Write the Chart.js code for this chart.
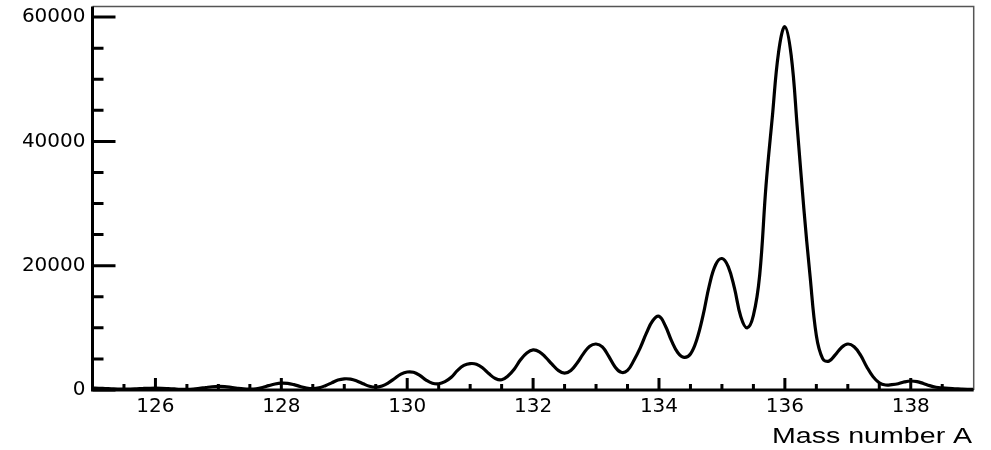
<!DOCTYPE html>
<html>
<head>
<meta charset="utf-8">
<title>Mass number A</title>
<script src="https://cdn.jsdelivr.net/npm/chart.js@4.4.1/dist/chart.umd.min.js"></script>
<style>
    html, body { margin: 0; padding: 0; background: #fff; }
    #wrap { width: 991px; height: 450px; }
</style>
</head>
<body>
<div id="wrap"><canvas id="massChart" width="991" height="450"></canvas></div>
<script>
// Mass spectrum, every 0.1 in A
const massA = [
    125.0, 125.1, 125.2, 125.3, 125.4, 125.5, 125.6, 125.7, 125.8, 125.9,
    126.0, 126.1, 126.2, 126.3, 126.4, 126.5, 126.6, 126.7, 126.8, 126.9,
    127.0, 127.1, 127.2, 127.3, 127.4, 127.5, 127.6, 127.7, 127.8, 127.9,
    128.0, 128.1, 128.2, 128.3, 128.4, 128.5, 128.6, 128.7, 128.8, 128.9,
    129.0, 129.1, 129.2, 129.3, 129.4, 129.5, 129.6, 129.7, 129.8, 129.9,
    130.0, 130.1, 130.2, 130.3, 130.4, 130.5, 130.6, 130.7, 130.8, 130.9,
    131.0, 131.1, 131.2, 131.3, 131.4, 131.5, 131.6, 131.7, 131.8, 131.9,
    132.0, 132.1, 132.2, 132.3, 132.4, 132.5, 132.6, 132.7, 132.8, 132.9,
    133.0, 133.1, 133.2, 133.3, 133.4, 133.5, 133.6, 133.7, 133.8, 133.9,
    134.0, 134.1, 134.2, 134.3, 134.4, 134.5, 134.6, 134.7, 134.8, 134.9,
    135.0, 135.1, 135.2, 135.3, 135.4, 135.5, 135.6, 135.7, 135.8, 135.9,
    136.0, 136.1, 136.2, 136.3, 136.4, 136.5, 136.6, 136.7, 136.8, 136.9,
    137.0, 137.1, 137.2, 137.3, 137.4, 137.5, 137.6, 137.7, 137.8, 137.9,
    138.0, 138.1, 138.2, 138.3, 138.4, 138.5, 138.6, 138.7, 138.8, 138.9,
    139.0
];
const counts = [
    300, 280, 240, 200, 160, 140, 150, 190, 240, 280,
    300, 280, 230, 170, 120, 110, 160, 270, 400, 520,
    580, 550, 430, 280, 170, 140, 200, 400, 700, 960,
    1100, 1060, 860, 570, 320, 220, 350, 700, 1150, 1600,
    1800, 1750, 1450, 1000, 600, 450, 650, 1150, 1850, 2550,
    2900, 2850, 2350, 1600, 1100, 1000, 1350, 2050, 3150, 3950,
    4250, 4150, 3550, 2600, 1850, 1650, 2250, 3350, 4850, 5950,
    6450, 6150, 5250, 4150, 3150, 2700, 3150, 4350, 5850, 7050,
    7400, 6950, 5450, 3750, 2850, 3150, 4750, 6750, 9150, 11150,
    11850, 10350, 7900, 6000, 5250, 5800, 8100, 12000, 16850, 20150,
    21150, 19850, 16350, 11800, 10000, 12000, 18500, 32850, 43850, 54350,
    58450, 53850, 41850, 29350, 18350, 8750, 5050, 4650, 5650, 6850,
    7400, 6950, 5650, 3750, 2150, 1150, 800, 850, 1000, 1300,
    1450, 1350, 1050, 700, 450, 330, 250, 200, 150, 110,
    90
];

// Axis ranges and tick marks
const xRange = [125, 139];
const yRange = [0, 61700];
const xTickLabels = [126, 128, 130, 132, 134, 136, 138];
const yTickLabels = [0, 20000, 40000, 60000];
const xMinorTicks = [125.5, 126.5, 127, 127.5, 128.5, 129, 129.5, 130.5, 131, 131.5,
    132.5, 133, 133.5, 134.5, 135, 135.5, 136.5, 137, 137.5, 138.5];
const yMinorTicks = [5000, 10000, 15000, 25000, 30000, 35000, 45000, 50000, 55000];
const xTitle = 'Mass number A';

// ROOT-style frame: thick left/bottom axes with ticks pointing inwards,
// thin grey top/right border, stretched axis title
const rootFrame = {
    id: 'rootFrame',
    afterDatasetsDraw(chart) {
        const { ctx, chartArea: a, scales } = chart;
        const xs = scales.x, ys = scales.y;
        ctx.save();

        ctx.strokeStyle = '#555';
        ctx.lineWidth = 1.5;
        ctx.beginPath();
        ctx.moveTo(a.left, a.top);
        ctx.lineTo(a.right, a.top);
        ctx.lineTo(a.right, a.bottom);
        ctx.stroke();

        ctx.strokeStyle = '#000';
        ctx.lineWidth = 3;
        ctx.lineCap = 'butt';
        ctx.beginPath();
        ctx.moveTo(a.left, a.top);
        ctx.lineTo(a.left, a.bottom);
        ctx.lineTo(a.right, a.bottom);
        ctx.stroke();

        ctx.beginPath();
        xTickLabels.forEach(v => {
            const px = xs.getPixelForValue(v);
            ctx.moveTo(px, a.bottom);
            ctx.lineTo(px, a.bottom - 12);
        });
        xMinorTicks.forEach(v => {
            const px = xs.getPixelForValue(v);
            ctx.moveTo(px, a.bottom);
            ctx.lineTo(px, a.bottom - 6);
        });
        yTickLabels.forEach(v => {
            const py = ys.getPixelForValue(v);
            ctx.moveTo(a.left, py);
            ctx.lineTo(a.left + 23, py);
        });
        yMinorTicks.forEach(v => {
            const py = ys.getPixelForValue(v);
            ctx.moveTo(a.left, py);
            ctx.lineTo(a.left + 11, py);
        });
        ctx.stroke();

        // axis title, right aligned under the frame
        ctx.fillStyle = '#000';
        ctx.font = '22px "Liberation Sans", Arial, sans-serif';
        ctx.textAlign = 'right';
        ctx.textBaseline = 'alphabetic';
        ctx.translate(a.right - 1.5, 442.5);
        ctx.scale(1.3, 1);
        ctx.fillText(xTitle, 0, 0);
        ctx.restore();
    }
};

function renderMassChart() {
    const canvas = document.getElementById('massChart');
    const tickFont = { family: '"DejaVu Sans", sans-serif', size: 20 };

    new Chart(canvas.getContext('2d'), {
        type: 'line',
        data: {
            datasets: [{
                data: massA.map((m, i) => ({ x: m, y: counts[i] })),
                borderColor: '#000',
                borderWidth: 3.2,
                pointRadius: 0,
                fill: false,
                tension: 0.4
            }]
        },
        options: {
            responsive: false,
            animation: false,
            devicePixelRatio: 1,
            layout: { padding: { top: 6.5, right: 17.3, left: 0, bottom: 0 } },
            plugins: {
                legend: { display: false },
                tooltip: { enabled: false }
            },
            scales: {
                x: {
                    type: 'linear',
                    min: xRange[0],
                    max: xRange[1],
                    grid: { display: false, drawTicks: false },
                    border: { display: false },
                    afterBuildTicks: (scale) => { scale.ticks = xTickLabels.map(v => ({ value: v })); },
                    afterFit: (scale) => {
                        scale.height = 60;
                        scale.paddingLeft = 0;
                        scale.paddingRight = 0;
                    },
                    ticks: {
                        color: '#000',
                        font: tickFont,
                        padding: 5,
                        maxRotation: 0,
                        autoSkip: false,
                        callback: (v) => String(v)
                    }
                },
                y: {
                    min: yRange[0],
                    max: yRange[1],
                    grid: { display: false, drawTicks: false },
                    border: { display: false },
                    afterBuildTicks: (scale) => { scale.ticks = yTickLabels.map(v => ({ value: v })); },
                    afterFit: (scale) => {
                        scale.width = 92.5;
                        scale.paddingTop = 0;
                        scale.paddingBottom = 0;
                    },
                    ticks: {
                        color: '#000',
                        font: tickFont,
                        padding: 7,
                        autoSkip: false,
                        callback: (v) => String(v)
                    }
                }
            }
        },
        plugins: [rootFrame]
    });
}

document.addEventListener('DOMContentLoaded', renderMassChart);
</script>
</body>
</html>
